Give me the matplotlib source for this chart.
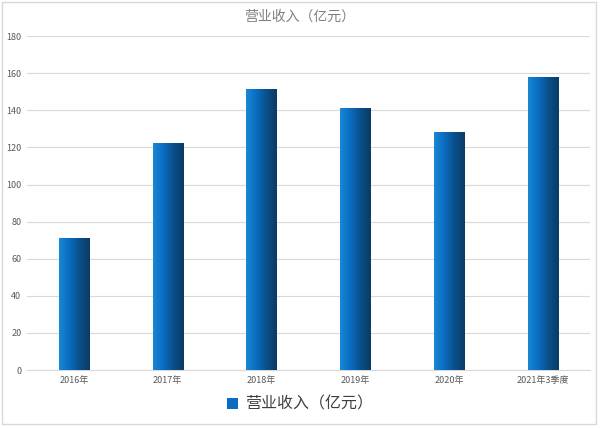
import numpy as np
import matplotlib
matplotlib.use("Agg")
import matplotlib.pyplot as plt
from matplotlib.colors import LinearSegmentedColormap
from matplotlib.patches import Rectangle

plt.rcParams["font.family"] = ["Noto Sans CJK SC", "DejaVu Sans"]

categories = ["2016年", "2017年", "2018年", "2019年", "2020年", "2021年3季度"]
revenue = [71, 122, 151, 141, 128, 157.5]
yticks = [0, 20, 40, 60, 80, 100, 120, 140, 160, 180]
series_name = "营业收入（亿元）"

fig = plt.figure(figsize=(6, 4.28), dpi=100)
ax = fig.add_axes([0.045, 0.1355, 0.938, 0.78])

x = np.arange(len(categories))
bars = ax.bar(x, revenue, width=0.32, color="none", edgecolor="none", zorder=3)

cmap = LinearSegmentedColormap.from_list("bar", ["#1a86d6", "#0a6cc0", "#0b4f8a", "#0a3b66"])
grad = np.linspace(0, 1, 64).reshape(1, -1)
for b in bars:
    x0, w, h = b.get_x(), b.get_width(), b.get_height()
    ax.imshow(grad, cmap=cmap, aspect="auto", extent=(x0, x0 + w, 0, h), zorder=3)

ax.set_xlim(-0.5, len(categories) - 0.5)
ax.set_ylim(0, 180)
ax.set_yticks(yticks)
ax.set_xticks(x)
ax.set_xticklabels(categories)
ax.tick_params(axis="both", length=0, labelsize=6.5, colors="#595959", pad=4)
ax.grid(axis="y", color="#d9d9d9", linewidth=0.8, zorder=0)
for s in ["top", "right", "left"]:
    ax.spines[s].set_visible(False)
ax.spines["bottom"].set_color("#d9d9d9")

fig.text(0.5, 0.962, series_name, ha="center", va="center", fontsize=10, color="#7f7f7f")

handle = Rectangle((0, 0), 1, 1, facecolor="#0a6cc0")
fig.legend([handle], [series_name], loc="center", bbox_to_anchor=(0.5, 0.055),
           frameon=False, fontsize=11.5, handlelength=0.7, handleheight=0.7,
           handletextpad=0.4, labelcolor="#404040")

fig.patches.append(Rectangle((0.004, 0.01), 0.99, 0.985, transform=fig.transFigure,
                             fill=False, edgecolor="#d9d9d9", linewidth=1))

fig.savefig("out.png", dpi=100)
